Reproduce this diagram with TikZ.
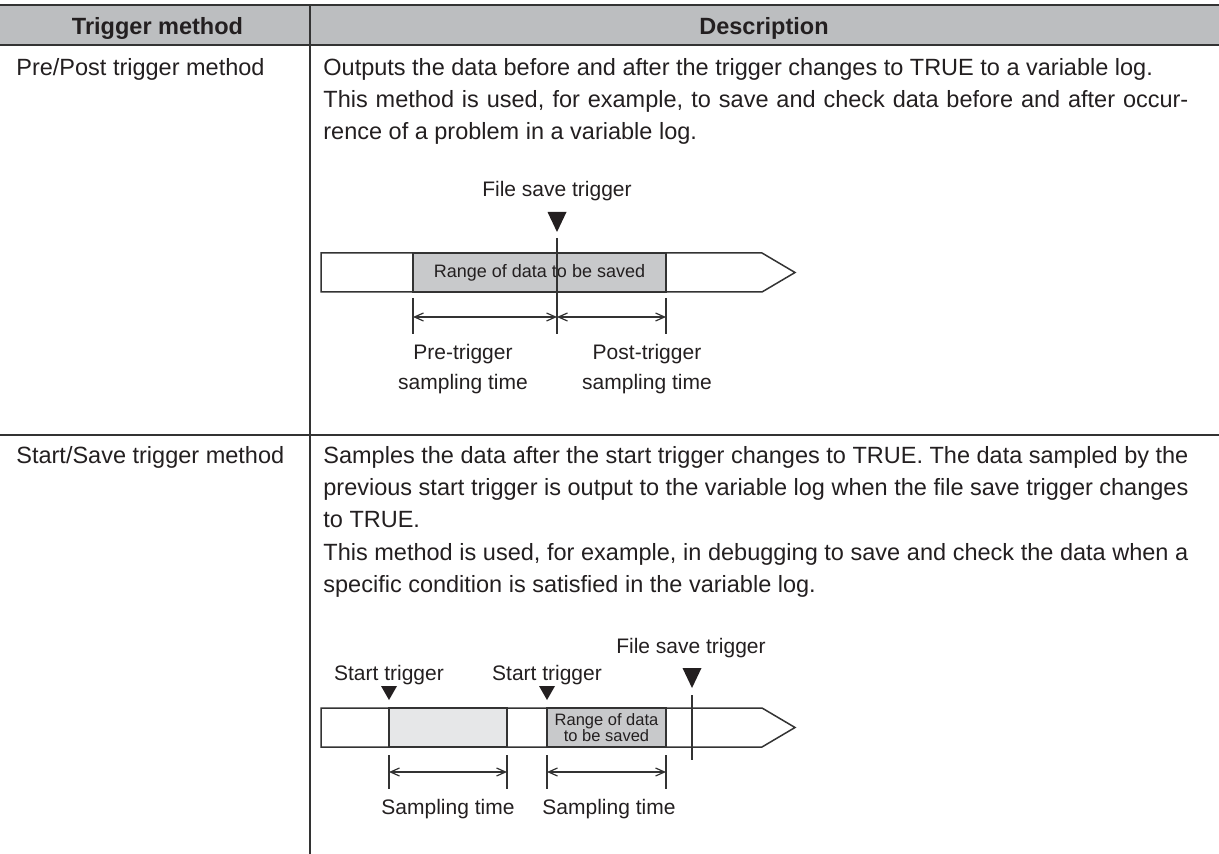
\documentclass[tikz,border=0pt]{standalone}
\usepackage{fontspec}
\setmainfont{Liberation Sans}
\usetikzlibrary{arrows.meta}
\definecolor{ink}{HTML}{231F20}
\definecolor{rule}{HTML}{333333}
\definecolor{headgray}{HTML}{BCBEC0}
\definecolor{rangegray}{HTML}{C8C9CB}
\definecolor{lightgray}{HTML}{E6E7E8}
\newcommand\tightlines{\lineskiplimit=-5pt\relax}
\begin{document}
\begin{tikzpicture}[x=0.5pt,y=-0.5pt,
  txt/.style={inner sep=0pt,text=ink},
  head/.style={txt,anchor=base,font=\fontsize{11.75}{14}\selectfont\bfseries},
  body/.style={txt,anchor=base west,font=\fontsize{11.75}{16}\selectfont},
  lbl/.style={txt,anchor=base,align=center,font=\fontsize{10.5}{15}\selectfont},
  logbar/.style={draw=rule,line width=0.75pt,fill=white},
  rangebox/.style={draw=rule,line width=0.75pt,fill=rangegray,inner sep=0pt,text=ink,align=center,minimum height=19.5pt},
  trigmark/.style={fill=ink},
  tickln/.style={draw=rule,line width=0.6pt},
  dimln/.style={tickln,{Straight Barb[length=4.5pt,width=4pt]}-{Straight Barb[length=4.5pt,width=4pt]}},
  tline/.style={draw=rule,line width=1.25pt},
  gline/.style={draw=rule,line width=0.75pt}]
\def\descx{323}
\def\descw{432.5pt}
\def\jline#1{\makebox[\descw][s]{#1}}

\useasboundingbox (0,0) rectangle (1219,854);

% table
\fill[headgray] (0,5) rectangle (1219,45);
\draw[tline] (0,5) -- (1219,5);
\draw[tline] (0,45) -- (1219,45);
\draw[gline] (310,5) -- (310,854);
\draw[gline] (0,435) -- (1219,435);

\node[head] (hMethod) at (157.5,35) {Trigger method};
\node[head] (hDesc) at (764,35) {Description};

% Pre/Post row
\node[body] (mPre) at (16,76) {Pre/Post trigger method};
\node[body] (dA1) at (\descx,76) {Outputs the data before and after the trigger changes to TRUE to a variable log.};
\node[body] (dA2) at (\descx,108) {\jline{This method is used, for example, to save and check data before and after occur-}};
\node[body] (dA3) at (\descx,140) {rence of a problem in a variable log.};

\draw[logbar] (321,253) -- (762,253) -- (795,272.5) -- (762,292) -- (321,292) -- cycle;
\node[rangebox,minimum width=126.5pt,font=\fontsize{9}{11}\selectfont] (rangeA) at (539.5,272.5) {Range of data to be saved};
\node[lbl] (saveA) at (557,197) {File save trigger};
\fill[trigmark] (547.5,212) -- (566.5,212) -- (557,232) -- cycle;
\coordinate (trgA) at (557,238);
\coordinate (trgAe) at (557,334);
\draw[tickln] (trgA) -- (trgAe);

\coordinate (tA1) at (413,298); \coordinate (tA1e) at (413,334);
\coordinate (tA3) at (666,298); \coordinate (tA3e) at (666,334);
\draw[tickln] (tA1) -- (tA1e);
\draw[tickln] (tA3) -- (tA3e);
\coordinate (aA1) at (413,317); \coordinate (aA2) at (557,317); \coordinate (aA3) at (666,317);
\draw[dimln] (aA1) -- (aA2);
\draw[dimln] (aA2) -- (aA3);
\node[lbl,anchor=center] (preT) at (463,369) {Pre-trigger\\sampling time};
\node[lbl,anchor=center] (postT) at (647,369) {Post-trigger\\sampling time};

% Start/Save row
\node[body] (mStart) at (16,464) {Start/Save trigger method};
\node[body] (dB1) at (\descx,464) {\jline{Samples the data after the start trigger changes to TRUE. The data sampled by the}};
\node[body] (dB2) at (\descx,496) {\jline{previous start trigger is output to the variable log when the file save trigger changes}};
\node[body] (dB3) at (\descx,528) {to TRUE.};
\node[body] (dB4) at (\descx,560) {\jline{This method is used, for example, in debugging to save and check the data when a}};
\node[body] (dB5) at (\descx,592) {specific condition is satisfied in the variable log.};

\draw[logbar] (321,708) -- (762,708) -- (795,727.5) -- (762,747) -- (321,747) -- cycle;
\node[rangebox,fill=lightgray,minimum width=59pt] (sampB) at (448,727.5) {};
\node[rangebox,minimum width=59.5pt,font={\fontsize{8.25}{8}\selectfont\tightlines}] (rangeB) at (606.5,727.5) {Range of data\\to be saved};

\node[lbl] (startB1) at (389,680) {Start trigger};
\node[lbl] (startB2) at (547,680) {Start trigger};
\node[lbl] (saveB) at (691,653) {File save trigger};
\fill[trigmark] (381,686) -- (397,686) -- (389,700) -- cycle;
\fill[trigmark] (539,686) -- (555,686) -- (547,700) -- cycle;
\fill[trigmark] (682.5,668) -- (701.5,668) -- (692,688) -- cycle;
\coordinate (trgB) at (692,695);
\coordinate (trgBe) at (692,760);
\draw[tickln] (trgB) -- (trgBe);

\foreach \x/\n in {389/1,507/2,547/3,666/4}{
  \coordinate (tB\n) at (\x,755);
  \coordinate (tB\n e) at (\x,789);
  \draw[tickln] (tB\n) -- (tB\n e);
  \coordinate (aB\n) at (\x,772);
}
\draw[dimln] (aB1) -- (aB2);
\draw[dimln] (aB3) -- (aB4);
\node[lbl] (sampT1) at (448,814) {Sampling time};
\node[lbl] (sampT2) at (609,814) {Sampling time};
\end{tikzpicture}
\end{document}
